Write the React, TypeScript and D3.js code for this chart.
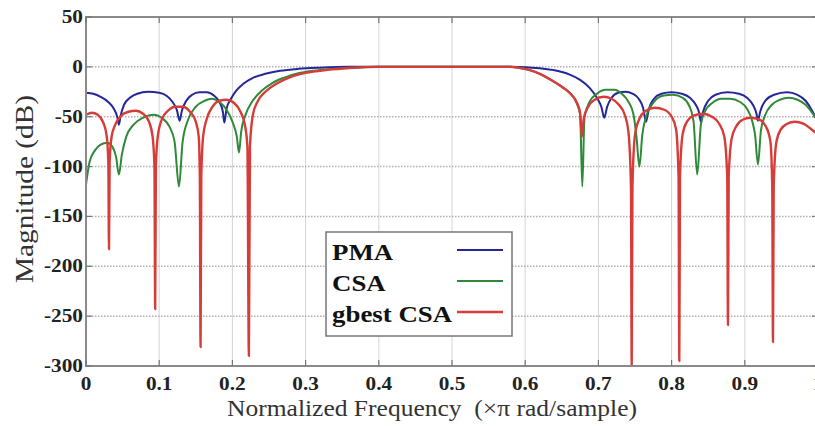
import * as d3 from "d3";

// frequency (x pi rad/sample), magnitude (dB)
const pma: [number, number][] = [
  [0, -26], [0.01, -27], [0.02, -30], [0.03, -35], [0.038, -42], [0.043, -51], [0.045, -58],
  [0.047, -50], [0.052, -38], [0.06, -31], [0.07, -27], [0.085, -25], [0.1, -26], [0.11, -29],
  [0.118, -35], [0.124, -43], [0.128, -54], [0.131, -44], [0.137, -34], [0.145, -28], [0.155, -25.5],
  [0.165, -25.5], [0.175, -29], [0.182, -35], [0.187, -45], [0.189, -56], [0.192, -42], [0.198, -32],
  [0.205, -24], [0.215, -17], [0.228, -11], [0.245, -7], [0.265, -4], [0.29, -2], [0.32, -0.8],
  [0.36, 0], [0.45, 0], [0.58, 0], [0.6, -0.3], [0.62, -1.5], [0.64, -3.5], [0.66, -7.5],
  [0.675, -13], [0.688, -21], [0.698, -31], [0.704, -40], [0.708, -51], [0.712, -40], [0.718, -31],
  [0.727, -26], [0.737, -25], [0.747, -27], [0.755, -32], [0.761, -41], [0.765, -55], [0.769, -42],
  [0.776, -32], [0.786, -27], [0.8, -25.5], [0.814, -27], [0.825, -31], [0.833, -38], [0.838, -47],
  [0.84, -55], [0.843, -45], [0.85, -34], [0.86, -28], [0.876, -25.5], [0.892, -27], [0.903, -31],
  [0.911, -38], [0.916, -47], [0.918, -54], [0.921, -45], [0.928, -34], [0.94, -28], [0.958, -25.5],
  [0.972, -28], [0.983, -34], [0.992, -44], [1, -56],
];

const csa: [number, number][] = [
  [0, -118], [0.005, -95], [0.012, -84], [0.02, -78], [0.029, -76], [0.036, -80], [0.041, -90],
  [0.045, -108], [0.049, -88], [0.055, -70], [0.065, -58], [0.078, -51], [0.092, -48], [0.105, -52],
  [0.114, -60], [0.121, -75], [0.127, -120], [0.132, -75], [0.14, -52], [0.15, -40], [0.162, -34],
  [0.172, -32], [0.182, -35], [0.192, -43], [0.2, -55], [0.206, -70], [0.209, -86], [0.212, -65],
  [0.218, -48], [0.226, -36], [0.24, -24], [0.255, -16], [0.27, -11], [0.29, -6.5], [0.31, -4],
  [0.34, -1.8], [0.37, -0.6], [0.4, 0], [0.5, 0], [0.58, 0], [0.59, -0.8], [0.605, -3], [0.62, -7],
  [0.635, -13], [0.65, -20], [0.662, -27], [0.67, -36], [0.675, -48], [0.678, -120], [0.681, -50],
  [0.688, -35], [0.698, -27], [0.71, -23], [0.722, -23], [0.732, -27], [0.741, -35], [0.748, -48],
  [0.752, -70], [0.756, -100], [0.76, -68], [0.766, -48], [0.775, -36], [0.788, -29], [0.802, -28],
  [0.815, -31], [0.824, -39], [0.83, -55], [0.835, -108], [0.84, -58], [0.846, -44], [0.856, -36],
  [0.868, -32], [0.88, -32], [0.893, -35], [0.903, -42], [0.91, -54], [0.914, -68], [0.918, -98],
  [0.922, -64], [0.928, -48], [0.937, -38], [0.948, -33], [0.96, -31], [0.972, -33], [0.983, -38],
  [0.993, -47], [1, -55],
];

const gbestCsa: [number, number][] = [
  [0, -48], [0.008, -46], [0.016, -48], [0.023, -55], [0.028, -68], [0.0305, -95], [0.0314, -183],
  [0.0323, -95], [0.035, -70], [0.04, -58], [0.048, -49], [0.058, -45], [0.068, -44], [0.078, -47],
  [0.086, -55], [0.091, -70], [0.0935, -100], [0.0945, -243], [0.0955, -100], [0.098, -70],
  [0.104, -52], [0.112, -44], [0.122, -40], [0.132, -40], [0.142, -45], [0.15, -55], [0.154, -70],
  [0.1555, -110], [0.1565, -281], [0.1575, -110], [0.16, -70], [0.165, -52], [0.172, -41],
  [0.182, -34], [0.192, -33], [0.202, -36], [0.211, -45], [0.217, -58], [0.2205, -80],
  [0.2225, -290], [0.224, -80], [0.228, -48], [0.235, -34], [0.245, -25], [0.26, -17], [0.28, -10],
  [0.3, -6], [0.33, -3], [0.36, -1.2], [0.4, 0], [0.5, 0], [0.58, 0], [0.59, -0.8], [0.605, -3],
  [0.62, -7], [0.635, -13], [0.65, -20], [0.662, -27], [0.67, -35], [0.675, -46], [0.6775, -70],
  [0.68, -52], [0.686, -40], [0.695, -33], [0.707, -30], [0.718, -32], [0.728, -38], [0.736, -48],
  [0.741, -65], [0.7445, -120], [0.7455, -300], [0.7465, -120], [0.75, -68], [0.756, -52],
  [0.765, -44], [0.777, -41], [0.79, -43], [0.8, -50], [0.806, -62], [0.8095, -110], [0.8105, -295],
  [0.8115, -110], [0.815, -68], [0.821, -55], [0.83, -49], [0.843, -47], [0.855, -50], [0.865, -57],
  [0.872, -70], [0.876, -110], [0.877, -259], [0.878, -110], [0.882, -72], [0.888, -60],
  [0.897, -53], [0.908, -51], [0.92, -53], [0.929, -60], [0.935, -75], [0.9375, -120],
  [0.9385, -276], [0.9395, -120], [0.943, -76], [0.949, -63], [0.958, -57], [0.968, -55],
  [0.98, -57], [0.99, -62], [1, -68],
];

const seriesNames = ["PMA", "CSA", "gbest CSA"];
const seriesColors = ["#23279a", "#2f8a38", "#d63c38"];
const seriesWidths = [2, 2, 2.4];
const seriesData = [pma, csa, gbestCsa];

const xTicks = [0, 0.1, 0.2, 0.3, 0.4, 0.5, 0.6, 0.7, 0.8, 0.9, 1];
const xTickLabels = ["0", "0.1", "0.2", "0.3", "0.4", "0.5", "0.6", "0.7", "0.8", "0.9", "1"];
const yTicks = [50, 0, -50, -100, -150, -200, -250, -300];

const W = 815;
const H = 426;
const left = 86, right = 818, top = 17, bottom = 366;
const serif = "'Liberation Serif', 'Times New Roman', serif";
const sx = 1.12; // the picture is a bit wider than tall

export default function App() {
  const x = d3.scaleLinear().domain([0, 1]).range([left, right]);
  const y = d3.scaleLinear().domain([50, -300]).range([top, bottom]);

  const line = d3
    .line<[number, number]>()
    .x((d) => x(d[0]))
    .y((d) => y(d[1]))
    .curve(d3.curveMonotoneX);

  return (
    <svg width={W} height={H} style={{ position: "absolute", left: 0, top: 0, background: "#fff" }}>
      <defs>
        <clipPath id="plot">
          <rect x={left} y={top} width={right - left} height={bottom - top} />
        </clipPath>
      </defs>

      {/* grid */}
      {xTicks.map((t) => (
        <line key={"gx" + t} x1={x(t)} x2={x(t)} y1={top} y2={bottom} stroke="#d4d4d4" strokeWidth={1} />
      ))}
      {yTicks.map((t) => (
        <line key={"gy" + t} x1={left} x2={right} y1={y(t)} y2={y(t)} stroke="#b0b0b0" strokeWidth={1.5} strokeDasharray="1.5,1.5" />
      ))}

      {/* curves */}
      <g clipPath="url(#plot)">
        {seriesData.map((s, i) => (
          <path key={seriesNames[i]} d={line(s) || ""} fill="none" stroke={seriesColors[i]} strokeWidth={seriesWidths[i]} strokeLinejoin="round" />
        ))}
      </g>

      {/* axes box and ticks */}
      <rect x={left} y={top} width={right - left} height={bottom - top} fill="none" stroke="#8a8a8a" strokeWidth={2} />
      {xTicks.map((t) => (
        <g key={"tx" + t} stroke="#777" strokeWidth={1.2}>
          <line x1={x(t)} x2={x(t)} y1={bottom} y2={bottom - 6} />
          <line x1={x(t)} x2={x(t)} y1={top} y2={top + 6} />
        </g>
      ))}
      {yTicks.map((t) => (
        <g key={"ty" + t} stroke="#777" strokeWidth={1.2}>
          <line x1={left} x2={left + 6} y1={y(t)} y2={y(t)} />
          <line x1={right} x2={right - 6} y1={y(t)} y2={y(t)} />
        </g>
      ))}

      {/* tick labels */}
      {xTicks.map((t, i) => (
        <text
          key={"lx" + t}
          transform={`translate(${x(t)},${bottom + 24}) scale(${sx},1)`}
          textAnchor="middle"
          fontFamily={serif}
          fontWeight="bold"
          fontSize={19}
          fill="#222"
        >
          {xTickLabels[i]}
        </text>
      ))}
      {yTicks.map((t) => (
        <text
          key={"ly" + t}
          transform={`translate(${left - 3},${y(t) + 6}) scale(${sx},1)`}
          textAnchor="end"
          fontFamily={serif}
          fontWeight="bold"
          fontSize={19}
          fill="#222"
        >
          {t}
        </text>
      ))}

      {/* axis titles */}
      <text
        x={432}
        y={416}
        textAnchor="middle"
        fontFamily={serif}
        fontSize={23}
        fill="#333"
        textLength={410}
        lengthAdjust="spacingAndGlyphs"
      >
        {"Normalized Frequency \u00A0(×π rad/sample)"}
      </text>
      <text
        transform="translate(33,189) rotate(-90)"
        textAnchor="middle"
        fontFamily={serif}
        fontSize={25}
        fill="#333"
        textLength={188}
        lengthAdjust="spacingAndGlyphs"
      >
        Magnitude (dB)
      </text>

      {/* legend */}
      <rect x={326} y={232} width={186} height={104} fill="#fff" stroke="#777" strokeWidth={1.5} />
      {seriesNames.map((name, i) => (
        <g key={"lg" + name}>
          <text
            transform={`translate(332,${260 + i * 31}) scale(${sx},1)`}
            fontFamily={serif}
            fontWeight="bold"
            fontSize={24}
            fill="#111"
          >
            {name}
          </text>
          <line x1={457} x2={503} y1={250 + i * 31} y2={250 + i * 31} stroke={seriesColors[i]} strokeWidth={seriesWidths[i]} />
        </g>
      ))}
    </svg>
  );
}
